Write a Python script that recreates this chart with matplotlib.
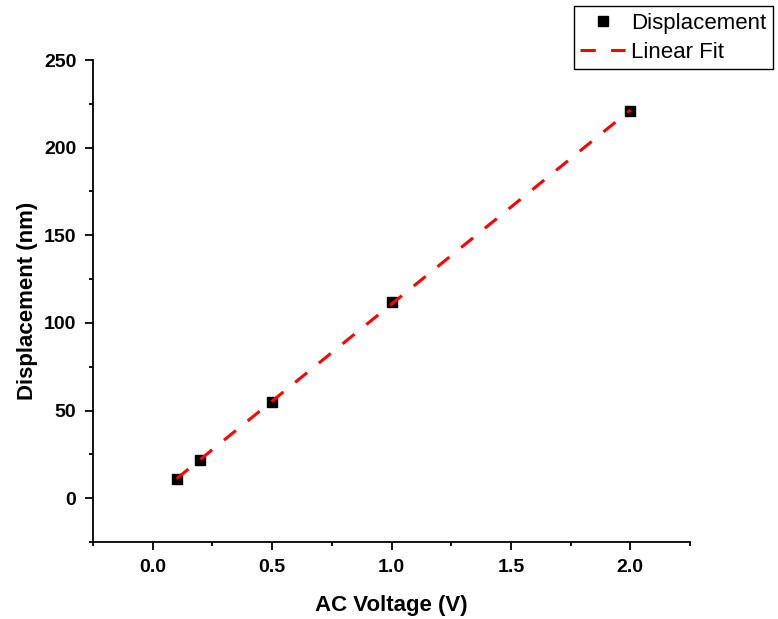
import numpy as np
import matplotlib
matplotlib.use('Agg')
import matplotlib.pyplot as plt
from matplotlib.ticker import MultipleLocator

plt.rcParams['font.family'] = ['Liberation Sans', 'DejaVu Sans']

voltage = [0.1, 0.2, 0.5, 1.0, 2.0]
displacement = [11, 22, 55, 112, 221]

# linear fit through the measured points
slope, intercept = np.polyfit(voltage, displacement, 1)
fit_x = np.array([voltage[0], voltage[-1]])
fit_y = slope * fit_x + intercept

fig = plt.figure(figsize=(7.78, 6.19), dpi=100)
ax = fig.add_axes([0.1195, 0.1244, 0.7675, 0.7786])

ax.plot(voltage, displacement, 's', color='black', markersize=7.5, label='Displacement', zorder=2)
ax.plot(fit_x, fit_y, '--', color='red', linewidth=2.2, dashes=(5, 5), label='Linear Fit', zorder=3)

ax.set_xlim(-0.25, 2.25)
ax.set_ylim(-25, 250)
ax.xaxis.set_major_locator(MultipleLocator(0.5))
ax.xaxis.set_minor_locator(MultipleLocator(0.25))
ax.yaxis.set_major_locator(MultipleLocator(50))
ax.yaxis.set_minor_locator(MultipleLocator(25))

ax.spines['top'].set_visible(False)
ax.spines['right'].set_visible(False)
for side in ['left', 'bottom']:
    ax.spines[side].set_linewidth(1.3)

ax.tick_params(which='major', direction='out', length=6, width=1.3, labelsize=14, pad=6)
ax.tick_params(which='minor', direction='out', length=3, width=1.3)
for lbl in ax.get_xticklabels() + ax.get_yticklabels():
    lbl.set_fontweight('bold')

ax.set_xlabel('AC Voltage (V)', fontsize=16, fontweight='bold', labelpad=14)
ax.set_ylabel('Displacement (nm)', fontsize=16, fontweight='bold', labelpad=4)

leg = fig.legend(loc='upper right', bbox_to_anchor=(0.994, 0.99), fontsize=16,
                 frameon=True, fancybox=False, edgecolor='black', framealpha=1,
                 borderpad=0.3, labelspacing=0.35, handlelength=2.0, handletextpad=0.3,
                 borderaxespad=0.0)
leg.get_frame().set_linewidth(1.0)

fig.savefig('out.png', dpi=100)
